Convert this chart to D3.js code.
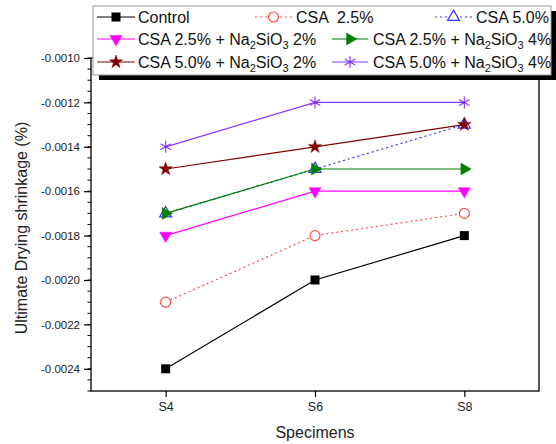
<!DOCTYPE html>
<html>
<head>
<meta charset="utf-8">
<script src="https://cdn.jsdelivr.net/npm/d3@7"></script>
<style>
  body { margin: 0; background: #fff; }
  svg { font-family: Arial, "Liberation Sans", sans-serif; }
</style>
</head>
<body>
<div id="chart"></div>
<script>
const specimens = ['S4', 'S6', 'S8'];
const seriesNames = [
  'Control', 'CSA  2.5%', 'CSA 5.0%',
  'CSA 2.5% + Na2SiO3 2%', 'CSA 2.5% + Na2SiO3 4%',
  'CSA 5.0% + Na2SiO3 2%', 'CSA 5.0% + Na2SiO3 4%'
];
const control = [-0.0024, -0.0020, -0.0018];
const csa25 = [-0.0021, -0.0018, -0.0017];
const csa50 = [-0.0017, -0.0015, -0.0013];
const csa25na2 = [-0.0018, -0.0016, -0.0016];
const csa25na4 = [-0.0017, -0.0015, -0.0015];
const csa50na2 = [-0.0015, -0.0014, -0.0013];
const csa50na4 = [-0.0014, -0.0012, -0.0012];
const yTicks = [-0.0024, -0.0022, -0.0020, -0.0018, -0.0016, -0.0014, -0.0012, -0.0010];

const WIDTH = 556;
const HEIGHT = 444;
const margin = { top: 58, right: 17, bottom: 53, left: 91 };

// styling per series, same order as seriesNames
const styles = [
  { color: '#000000', dash: null, symbol: 'square', fill: true },
  { color: '#ff4d4d', dash: '2,3', symbol: 'circle', fill: false },
  { color: '#3333ff', dash: '2,3', symbol: 'triUp', fill: false },
  { color: '#ff00ff', dash: null, symbol: 'triDown', fill: true },
  { color: '#008000', dash: null, symbol: 'triRight', fill: true },
  { color: '#800000', dash: null, symbol: 'star', fill: true },
  { color: '#8833ff', dash: null, symbol: 'asterisk', fill: false },
];
const values = [control, csa25, csa50, csa25na2, csa25na4, csa50na2, csa50na4];

const svg = d3.select('#chart').append('svg')
  .attr('width', WIDTH)
  .attr('height', HEIGHT);

const x = d3.scalePoint()
  .domain(specimens)
  .range([margin.left, WIDTH - margin.right])
  .padding(0.5);
const y = d3.scaleLinear()
  .domain([-0.0025, -0.0010])
  .range([HEIGHT - margin.bottom, margin.top]);

// draws a marker of the given kind centred at 0,0
function drawSymbol(g, st) {
  const s = st.symbol;
  const fill = st.fill ? st.color : '#fff';
  if (s === 'square') {
    g.append('rect').attr('x', -4.5).attr('y', -4.5).attr('width', 9).attr('height', 9)
      .attr('fill', fill);
  } else if (s === 'circle') {
    g.append('circle').attr('r', 5).attr('fill', fill)
      .attr('stroke', st.color).attr('stroke-width', 1.2);
  } else if (s.startsWith('tri')) {
    const rot = { triUp: 0, triDown: 180, triRight: 90 }[s];
    g.append('path').attr('d', d3.symbol(d3.symbolTriangle, 62)())
      .attr('transform', `rotate(${rot})`)
      .attr('fill', fill).attr('stroke', st.color).attr('stroke-width', st.fill ? 0.5 : 1.2);
  } else if (s === 'star') {
    g.append('path').attr('d', d3.symbol(d3.symbolStar, 55)())
      .attr('fill', fill).attr('stroke', st.color).attr('stroke-width', 0.5);
  } else if (s === 'asterisk') {
    [90, 30, 150].forEach((a) => {
      const r = 6;
      const dx = r * Math.cos(a * Math.PI / 180);
      const dy = r * Math.sin(a * Math.PI / 180);
      g.append('line').attr('x1', -dx).attr('y1', -dy).attr('x2', dx).attr('y2', dy)
        .attr('stroke', st.color).attr('stroke-width', 1.1);
    });
    g.append('circle').attr('r', 1.5).attr('fill', st.color);
  }
}

// y axis with minor ticks
const yAxisG = svg.append('g').attr('transform', `translate(${margin.left},0)`);
const minor = d3.range(-0.0025, -0.00099, 0.00005).map(v => +v.toFixed(5));
yAxisG.selectAll('line.minor')
  .data(minor)
  .enter().append('line')
  .attr('class', 'minor')
  .attr('x1', -3.5).attr('x2', 0)
  .attr('y1', d => y(d)).attr('y2', d => y(d))
  .attr('stroke', '#000').attr('stroke-width', 1);
// plain hyphen for the minus sign, as in the original
const fmt = d => d.toFixed(4);
yAxisG.call(d3.axisLeft(y).tickValues(yTicks).tickFormat(fmt).tickSize(7).tickPadding(4))
  .call(g => g.select('.domain').remove())
  .call(g => g.selectAll('.tick line').attr('stroke-width', 1.2))
  .call(g => g.selectAll('.tick text').attr('font-size', 11.5).attr('font-family', 'Arial, "Liberation Sans", sans-serif').attr('fill', '#222'));

// x axis
svg.append('g')
  .attr('transform', `translate(0,${HEIGHT - margin.bottom})`)
  .call(d3.axisBottom(x).tickSize(6).tickPadding(5))
  .call(g => g.select('.domain').remove())
  .call(g => g.selectAll('.tick line').attr('stroke-width', 1.2))
  .call(g => g.selectAll('.tick text').attr('font-size', 12.5).attr('font-family', 'Arial, "Liberation Sans", sans-serif').attr('fill', '#222'));

// frame
svg.append('rect')
  .attr('x', margin.left).attr('y', margin.top)
  .attr('width', WIDTH - margin.left - margin.right)
  .attr('height', HEIGHT - margin.top - margin.bottom)
  .attr('fill', 'none').attr('stroke', '#000').attr('stroke-width', 1.3);

// series lines and markers
const line = d3.line().x((d, i) => x(specimens[i])).y(d => y(d));
values.forEach((vals, k) => {
  const st = styles[k];
  const g = svg.append('g');
  g.append('path').datum(vals)
    .attr('d', line)
    .attr('fill', 'none')
    .attr('stroke', st.color)
    .attr('stroke-width', 1.2)
    .attr('stroke-dasharray', st.dash);
  vals.forEach((v, i) => {
    drawSymbol(g.append('g').attr('transform', `translate(${x(specimens[i])},${y(v)})`), st);
  });
});

// axis titles
svg.append('text')
  .attr('x', (margin.left + WIDTH - margin.right) / 2)
  .attr('y', 438)
  .attr('text-anchor', 'middle')
  .attr('font-size', 16).attr('fill', '#222')
  .text('Specimens');
svg.append('text')
  .attr('transform', 'translate(27,228) rotate(-90)')
  .attr('text-anchor', 'middle')
  .attr('font-size', 16).attr('fill', '#222')
  .text('Ultimate Drying shrinkage (%)');

// legend
const legend = svg.append('g');
legend.append('rect').attr('x', 99).attr('y', 11).attr('width', 457).attr('height', 69).attr('fill', '#000');
legend.append('rect').attr('x', 93).attr('y', 6).attr('width', 458).attr('height', 69)
  .attr('fill', '#fff').attr('stroke', '#999').attr('stroke-width', 1);

const legendPos = [
  { x1: 97, x2: 135, tx: 138, cy: 17 },
  { x1: 255, x2: 292, tx: 296, cy: 17 },
  { x1: 435, x2: 472, tx: 476, cy: 17 },
  { x1: 97, x2: 135, tx: 138, cy: 39 },
  { x1: 332, x2: 368, tx: 373, cy: 39 },
  { x1: 97, x2: 135, tx: 138, cy: 62 },
  { x1: 332, x2: 368, tx: 373, cy: 62 },
];
seriesNames.forEach((name, k) => {
  const p = legendPos[k];
  const st = styles[k];
  const item = legend.append('g');
  item.append('line')
    .attr('x1', p.x1).attr('x2', p.x2).attr('y1', p.cy).attr('y2', p.cy)
    .attr('stroke', st.color).attr('stroke-width', 1.2)
    .attr('stroke-dasharray', st.dash);
  drawSymbol(item.append('g').attr('transform', `translate(${(p.x1 + p.x2) / 2},${p.cy})`), st);
  const t = item.append('text')
    .attr('x', p.tx).attr('y', p.cy + 5.5)
    .attr('font-size', 16).attr('fill', '#111');
  const m = name.match(/^(.*)Na2SiO3(.*)$/);
  if (m) {
    t.append('tspan').text(m[1] + 'Na');
    t.append('tspan').attr('font-size', 11).attr('dy', 4).text('2');
    t.append('tspan').attr('dy', -4).text('SiO');
    t.append('tspan').attr('font-size', 11).attr('dy', 4).text('3');
    t.append('tspan').attr('dy', -4).text(m[2]);
  } else {
    t.attr('xml:space', 'preserve').style('white-space', 'pre').text(name);
  }
});
</script>
</body>
</html>
